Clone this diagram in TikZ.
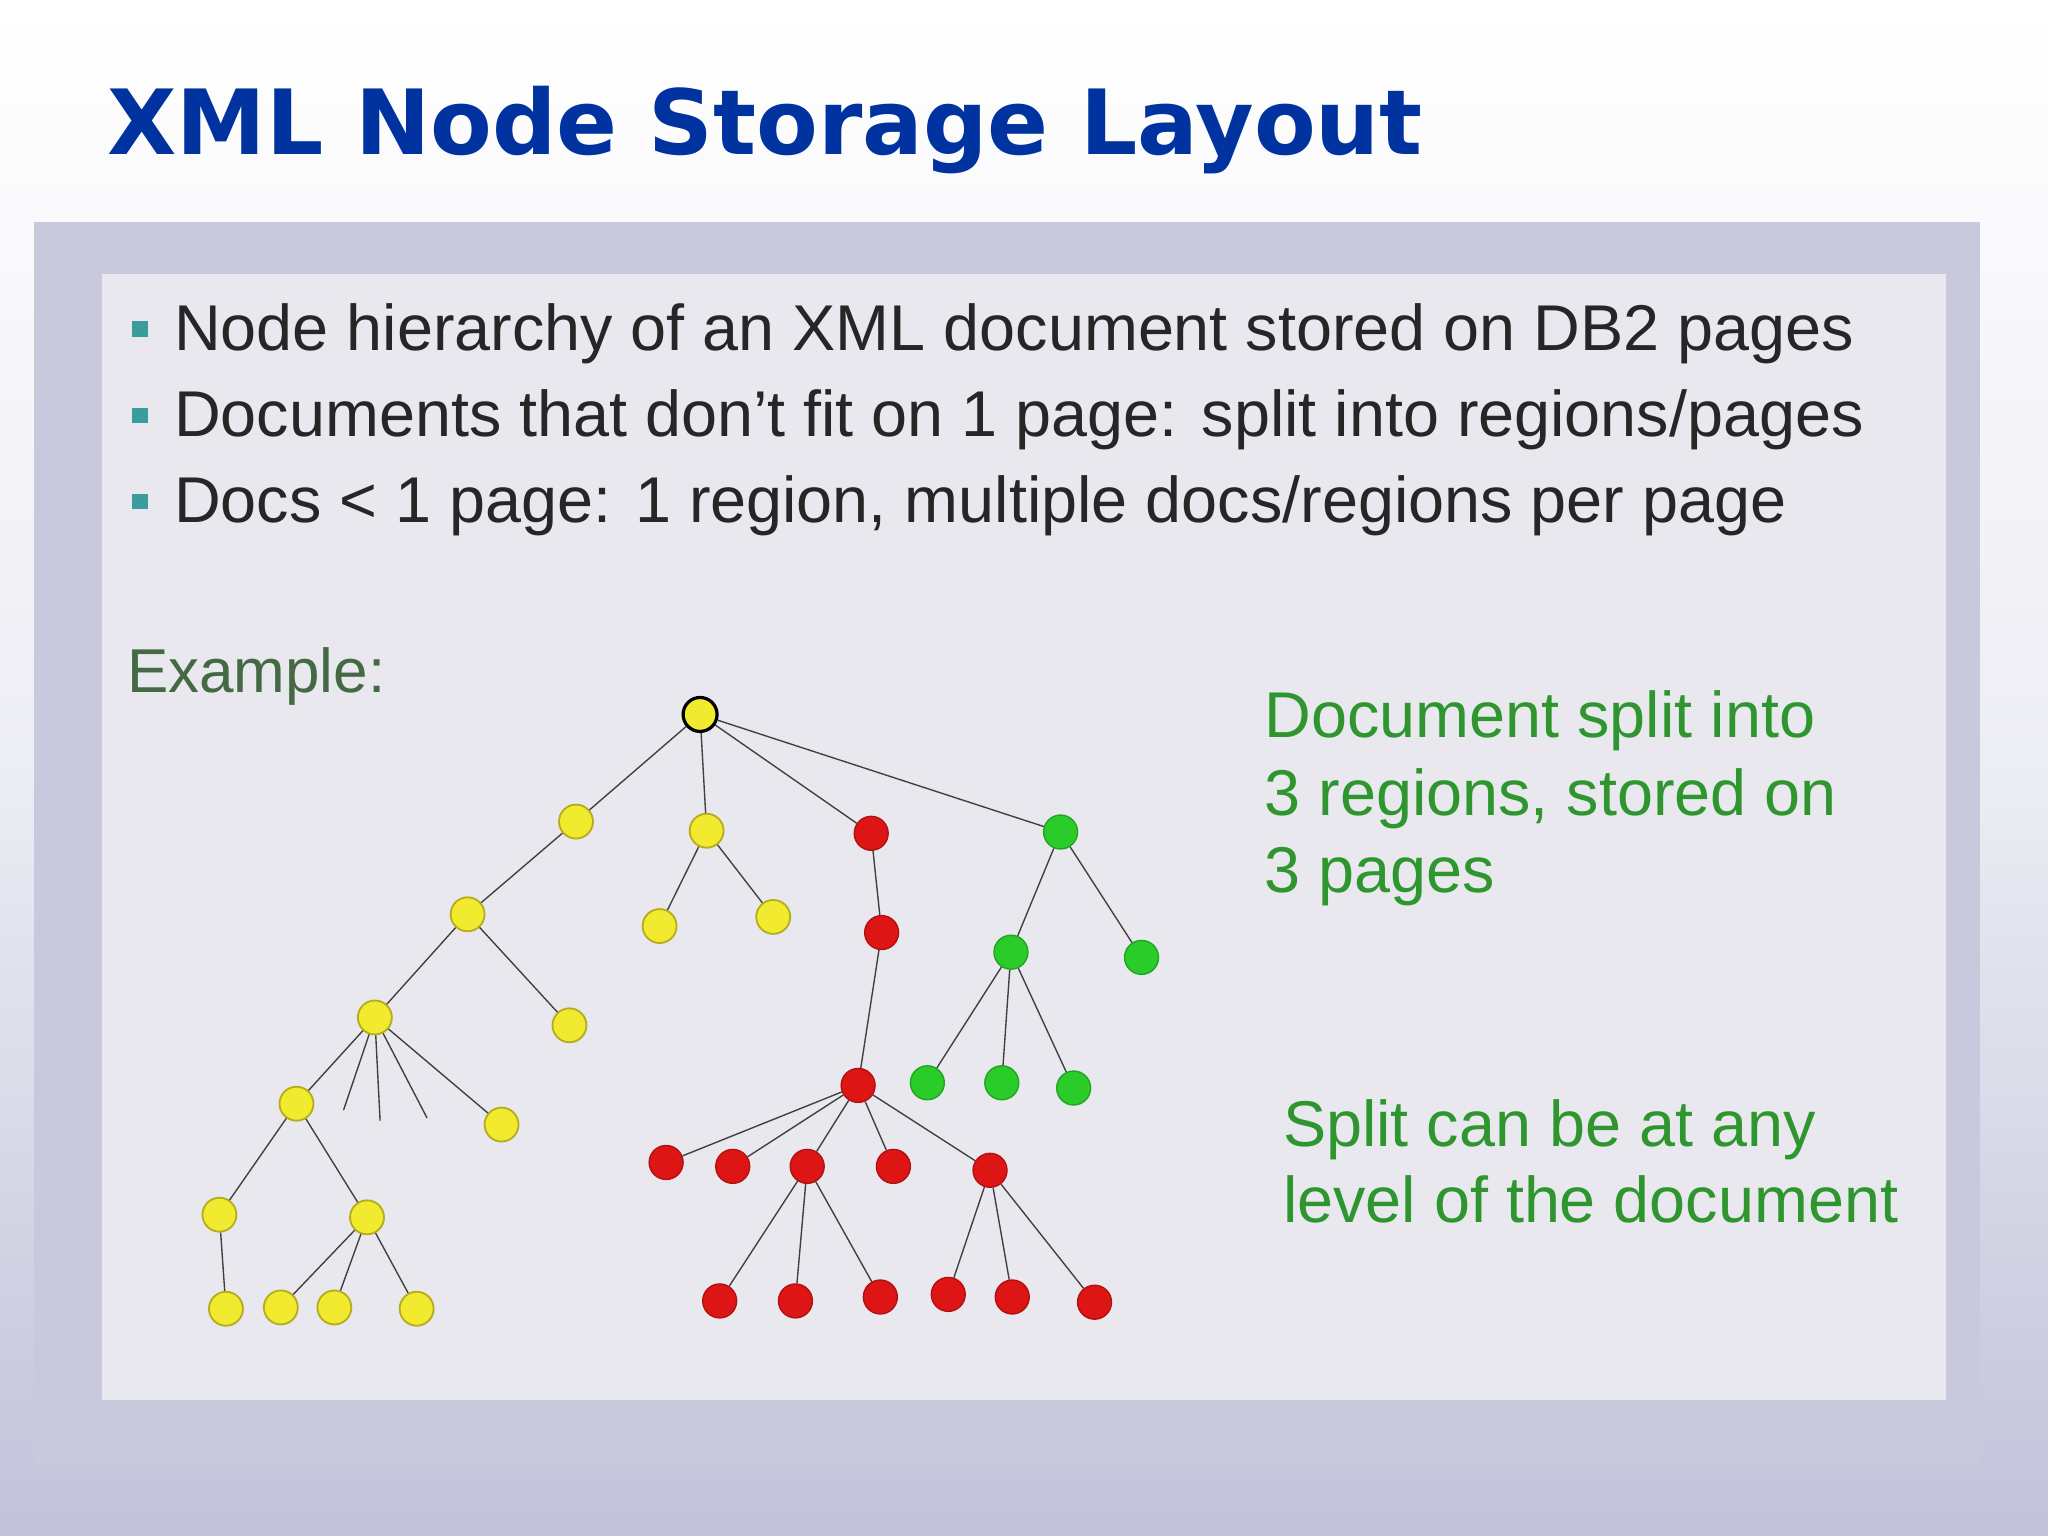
\documentclass[tikz,border=0pt]{standalone}
\usepackage{fontspec}
\setmainfont{Liberation Sans}
\newfontfamily\titlefont{DejaVu Sans}
\definecolor{tblue}{HTML}{0033A0}
\definecolor{yfill}{HTML}{F2EA2E}
\definecolor{yline}{HTML}{B5AC1E}
\definecolor{rfill}{HTML}{DD1515}
\definecolor{gfill}{HTML}{2ACC2A}
\definecolor{gtext}{HTML}{2F962F}
\definecolor{bul}{HTML}{3A9C9C}
\definecolor{bgbot}{HTML}{C2C2DA}
\definecolor{panel}{HTML}{C9C9DD}
\definecolor{inner}{HTML}{E8E8EE}
\tikzset{
 yn/.style={circle,fill=yfill,draw=yline,line width=0.8pt,minimum size=0.52cm,inner sep=0},
 rn/.style={circle,fill=rfill,draw=rfill!80!black,line width=0.6pt,minimum size=0.52cm,inner sep=0},
 gn/.style={circle,fill=gfill,draw=gfill!80!black,line width=0.6pt,minimum size=0.52cm,inner sep=0},
 edge/.style={draw=black!75,line width=0.6pt},
 btxt/.style={anchor=base west,inner sep=0,font=\fontsize{28.2}{32}\selectfont,text=black!85},
 gtxt/.style={anchor=base west,inner sep=0,font=\fontsize{28.2}{32}\selectfont,text=gtext},
}
\begin{document}
\begin{tikzpicture}[x=0.02cm,y=-0.02cm]
\shade[top color=white,bottom color=bgbot,middle color=white!70!bgbot] (0,0) rectangle (1568,1176);
\useasboundingbox (0,0) rectangle (1568,1176);
\fill[panel] (26,170) rectangle (1516,1122);
\fill[inner] (78,210) rectangle (1490,1072);
\node[anchor=base west,inner sep=0,text=tblue,font=\titlefont\bfseries\fontsize{39.2}{45}\selectfont] (title) at (82,118) {XML Node Storage Layout};
\foreach \y/\t [count=\i] in {268/{Node hierarchy of an XML document stored on DB2 pages},334/{Documents that don’t fit on 1 page: split into regions/pages},400/{Docs < 1 page: 1 region, multiple docs/regions per page}}{
 \fill[bul] (101,\y-22) rectangle (113,\y-10);
 \node[btxt] (b\i) at (133,\y) {\t};
}
\node[gtxt,text=black!40!gtext!60!gray,font=\fontsize{27}{32}\selectfont] (ex) at (97,530) {Example:};
\node[gtxt] (d1) at (968,565) {Document split into};
\node[gtxt] (d2) at (968,624) {3 regions, stored on};
\node[gtxt] (d3) at (968,683) {3 pages};
\node[gtxt] (s1) at (982,878) {Split can be at any};
\node[gtxt] (s2) at (982,936) {level of the document};
% nodes
\node[yn,draw=black,line width=1.4pt] (root) at (536,547) {};
\node[yn] (y1) at (441,629) {};
\node[yn] (y2) at (541,636) {};
\node[rn] (r1) at (667,638) {};
\node[gn] (g1) at (812,637) {};
\node[yn] (y3) at (358,700) {};
\node[yn] (y2a) at (505,709) {};
\node[yn] (y2b) at (592,702) {};
\node[yn] (y4) at (287,779) {};
\node[yn] (y5) at (436,785) {};
\node[yn] (y6) at (227,845) {};
\node[yn] (y7) at (384,861) {};
\node[yn] (y8) at (168,930) {};
\node[yn] (y9) at (281,932) {};
\node[yn] (y10) at (173,1002) {};
\node[yn] (y11) at (215,1001) {};
\node[yn] (y12) at (256,1001) {};
\node[yn] (y13) at (319,1002) {};
\coordinate (d1e) at (263,850);
\coordinate (d2e) at (291,858);
\coordinate (d3e) at (327,856);
\node[rn] (r2) at (675,714) {};
\node[rn] (r3) at (657,831) {};
\node[rn] (r4) at (510,890) {};
\node[rn] (r5) at (561,893) {};
\node[rn] (r6) at (618,893) {};
\node[rn] (r7) at (684,893) {};
\node[rn] (r8) at (758,896) {};
\node[rn] (r9) at (551,996) {};
\node[rn] (r10) at (609,996) {};
\node[rn] (r11) at (674,993) {};
\node[rn] (r12) at (726,991) {};
\node[rn] (r13) at (775,993) {};
\node[rn] (r14) at (838,997) {};
\node[gn] (g2) at (774,729) {};
\node[gn] (g3) at (874,733) {};
\node[gn] (g4) at (710,829) {};
\node[gn] (g5) at (767,829) {};
\node[gn] (g6) at (822,833) {};
% edges
\foreach \a/\b in {root/y1,root/y2,root/r1,root/g1,y1/y3,y2/y2a,y2/y2b,y3/y4,y3/y5,y4/y6,y4/y7,y4/d1e,y4/d2e,y4/d3e,y6/y8,y6/y9,y8/y10,y9/y11,y9/y12,y9/y13,r1/r2,r2/r3,r3/r4,r3/r5,r3/r6,r3/r7,r3/r8,r6/r9,r6/r10,r6/r11,r8/r12,r8/r13,r8/r14,g1/g2,g1/g3,g2/g4,g2/g5,g2/g6}
 \draw[edge] (\a) -- (\b);
\end{tikzpicture}
\end{document}
